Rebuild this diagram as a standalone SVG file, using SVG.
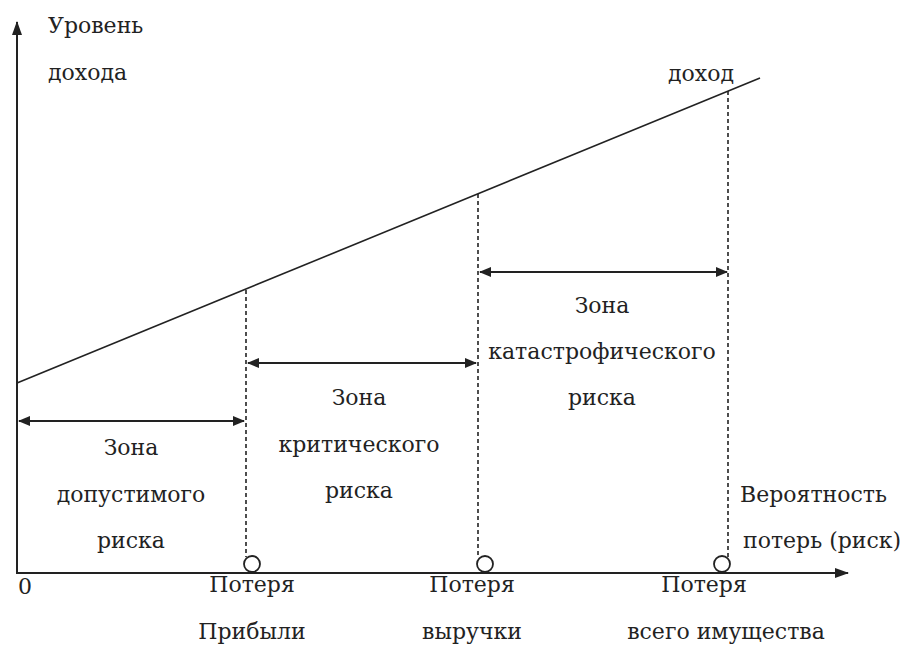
<svg xmlns="http://www.w3.org/2000/svg" width="902" height="645" viewBox="0 0 902 645">
<style>
text{font-family:"DejaVu Serif","Liberation Serif",serif;font-size:22px;fill:#222}
.c{text-anchor:middle}
.ax{stroke:#222;stroke-width:2;fill:none}
.dash{stroke:#222;stroke-width:1.6;stroke-dasharray:4 3;fill:none}
.arr{stroke:#222;stroke-width:2.2;fill:none;marker-start:url(#ah);marker-end:url(#ah)}
</style>
<defs>
<marker id="ah" viewBox="0 0 12 10" refX="11" refY="5" markerWidth="12" markerHeight="10" markerUnits="userSpaceOnUse" orient="auto-start-reverse">
<path d="M0,0 L12,5 L0,10 Z" fill="#222"/>
</marker>
<marker id="axh" viewBox="0 0 14 10" refX="13" refY="5" markerWidth="14" markerHeight="10" markerUnits="userSpaceOnUse" orient="auto">
<path d="M0,0 L14,5 L0,10 Z" fill="#222"/>
</marker>
</defs>
<g id="axes">
<line class="ax" x1="17" y1="573" x2="17" y2="22" marker-end="url(#axh)"/>
<line class="ax" x1="16" y1="573" x2="848" y2="573" marker-end="url(#axh)"/>
<text x="48" y="33">Уровень</text>
<text x="48" y="80">дохода</text>
<text x="18" y="594">0</text>
<text x="740" y="502">Вероятность</text>
<text x="743" y="548">потерь (риск)</text>
</g>
<g id="income-line">
<line x1="17" y1="383" x2="760" y2="78" stroke="#222" stroke-width="1.6"/>
<text x="668" y="81">доход</text>
</g>
<g id="connectors">
<line class="dash" x1="246" y1="290" x2="246" y2="557"/>
<line class="dash" x1="478" y1="194" x2="478" y2="557"/>
<line class="dash" x1="728" y1="91" x2="728" y2="557"/>
<line class="arr" x1="19" y1="421" x2="244" y2="421"/>
<line class="arr" x1="248" y1="363" x2="476" y2="363"/>
<line class="arr" x1="480" y1="272" x2="727" y2="272"/>
</g>
<g id="point-profit">
<circle cx="252" cy="564" r="8" fill="#fff" stroke="#222" stroke-width="1.8"/>
<text class="c" x="252" y="592">Потеря</text>
<text class="c" x="252" y="639">Прибыли</text>
</g>
<g id="point-revenue">
<circle cx="485" cy="564" r="8" fill="#fff" stroke="#222" stroke-width="1.8"/>
<text class="c" x="472" y="592">Потеря</text>
<text class="c" x="472" y="639">выручки</text>
</g>
<g id="point-property">
<circle cx="722" cy="564" r="8" fill="#fff" stroke="#222" stroke-width="1.8"/>
<text class="c" x="704" y="592">Потеря</text>
<text class="c" x="726" y="639">всего имущества</text>
</g>
<g id="zone-acceptable">
<text class="c" x="131" y="455">Зона</text>
<text class="c" x="131" y="502">допустимого</text>
<text class="c" x="131" y="548">риска</text>
</g>
<g id="zone-critical">
<text class="c" x="359" y="405">Зона</text>
<text class="c" x="359" y="452">критического</text>
<text class="c" x="359" y="498">риска</text>
</g>
<g id="zone-catastrophic">
<text class="c" x="602" y="313">Зона</text>
<text class="c" x="602" y="359">катастрофического</text>
<text class="c" x="602" y="405">риска</text>
</g>
</svg>
